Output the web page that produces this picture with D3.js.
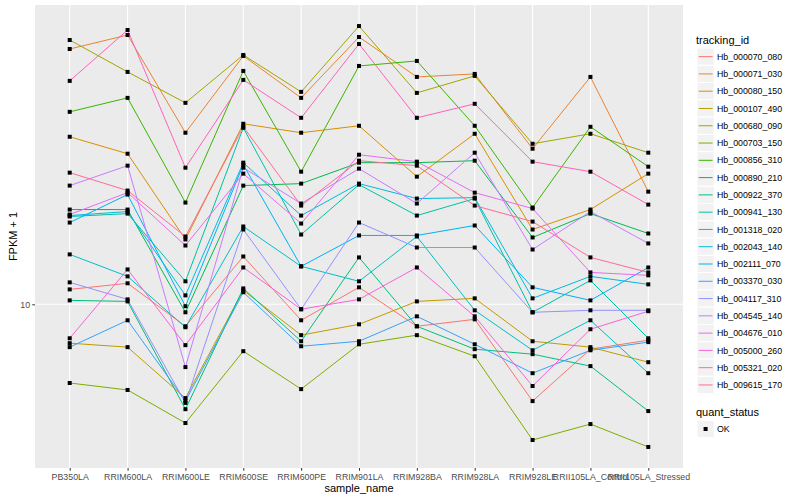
<!DOCTYPE html>
<html>
<head>
<meta charset="utf-8">
<style>
  body { margin: 0; background: #fff; }
  text { font-family: "Liberation Sans", Arial, sans-serif; }
</style>
<script src="https://d3js.org/d3.v7.min.js"></script>
</head>
<body>
<svg id="chart" width="800" height="500"></svg>
<script>
// sample names on the x axis
var samples = ["PB350LA", "RRIM600LA", "RRIM600LE", "RRIM600SE", "RRIM600PE", "RRIM901LA",
               "RRIM928BA", "RRIM928LA", "RRIM928LE", "RRII105LA_Control", "RRII105LA_Stressed"];

// FPKM + 1 per gene, one value per sample
var hb_000070_080 = [10.90, 11.29, 8.81, 13.18, 9.12, 11.03, 8.81, 9.17, 5.72, 7.72, 8.13];
var hb_000071_030 = [43.65, 47.32, 26.92, 41.93, 32.92, 46.77, 37.15, 37.80, 24.55, 37.15, 19.16];
var hb_000080_150 = [26.30, 23.85, 14.54, 28.35, 26.92, 28.02, 20.89, 26.76, 15.40, 17.28, 21.26];
var hb_000107_490 = [7.99, 7.81, 5.82, 10.84, 8.37, 8.91, 10.17, 10.35, 8.08, 7.81, 7.16];
var hb_000680_090 = [45.97, 38.24, 31.99, 42.17, 34.08, 49.83, 33.88, 37.37, 25.26, 26.76, 23.99];
var hb_000703_150 = [6.35, 6.10, 5.04, 7.63, 6.13, 7.94, 8.37, 7.41, 4.57, 5.01, 4.39];
var hb_000856_310 = [30.37, 32.92, 17.99, 38.46, 21.50, 39.58, 40.74, 28.02, 17.48, 27.86, 22.13];
var hb_000890_210 = [17.28, 17.28, 9.55, 19.84, 20.07, 22.65, 22.65, 22.91, 14.71, 16.88, 15.05];
var hb_000922_370 = [10.23, 10.17, 5.46, 10.96, 8.08, 13.11, 8.81, 7.72, 7.50, 7.00, 5.40];
var hb_000941_130 = [16.60, 16.88, 11.42, 27.70, 14.96, 19.95, 16.69, 18.41, 9.55, 11.48, 8.22];
var hb_001318_020 = [13.34, 11.75, 8.76, 15.67, 12.45, 11.42, 14.79, 9.66, 7.67, 9.12, 6.72];
var hb_002043_140 = [16.69, 17.08, 10.53, 22.65, 16.69, 20.07, 18.41, 18.51, 10.35, 11.75, 11.22];
var hb_002111_070 = [16.03, 18.84, 9.89, 22.39, 12.45, 14.88, 14.88, 15.76, 11.03, 10.23, 12.37];
var hb_003370_030 = [7.81, 9.12, 5.72, 10.72, 7.85, 8.08, 9.33, 7.94, 6.72, 7.67, 8.04];
var hb_004117_310 = [11.35, 10.29, 5.66, 15.40, 9.72, 16.03, 13.88, 13.88, 9.55, 9.66, 9.66];
var hb_004545_140 = [19.84, 22.26, 6.96, 22.00, 17.89, 21.88, 17.89, 23.99, 13.72, 17.08, 14.21];
var hb_004676_010 = [16.79, 19.05, 14.04, 21.26, 15.94, 23.71, 22.78, 19.05, 17.38, 12.02, 11.82];
var hb_005000_260 = [8.22, 12.23, 7.90, 12.37, 9.72, 10.29, 12.37, 9.33, 6.24, 8.66, 9.61];
var hb_005321_020 = [36.31, 48.70, 22.00, 36.52, 29.34, 44.93, 29.34, 31.81, 22.78, 21.50, 17.78];
var hb_009615_170 = [21.38, 19.28, 14.79, 27.86, 17.68, 22.91, 22.26, 17.68, 16.12, 13.11, 12.02];

var trackingIds = ["Hb_000070_080", "Hb_000071_030", "Hb_000080_150", "Hb_000107_490", "Hb_000680_090",
                   "Hb_000703_150", "Hb_000856_310", "Hb_000890_210", "Hb_000922_370", "Hb_000941_130",
                   "Hb_001318_020", "Hb_002043_140", "Hb_002111_070", "Hb_003370_030", "Hb_004117_310",
                   "Hb_004545_140", "Hb_004676_010", "Hb_005000_260", "Hb_005321_020", "Hb_009615_170"];
var fpkm = [hb_000070_080, hb_000071_030, hb_000080_150, hb_000107_490, hb_000680_090,
            hb_000703_150, hb_000856_310, hb_000890_210, hb_000922_370, hb_000941_130,
            hb_001318_020, hb_002043_140, hb_002111_070, hb_003370_030, hb_004117_310,
            hb_004545_140, hb_004676_010, hb_005000_260, hb_005321_020, hb_009615_170];
var quantStatus = ["OK"];
var yTicks = [10];

// ggplot default hue palette, 20 levels
var palette = ["#F8766D", "#EA8331", "#D89000", "#C09B00", "#A3A500", "#7CAE00", "#39B600",
               "#00BB4E", "#00BF7D", "#00C1A3", "#00BFC4", "#00BAE0", "#00B0F6", "#35A2FF",
               "#9590FF", "#C77CFF", "#E76BF3", "#FA62DB", "#FF62BC", "#FF6C91"];

var series = trackingIds.map(function(id, i) {
  return { id: id, color: palette[i],
           values: fpkm[i].map(function(v, j) { return { sample: samples[j], value: v }; }) };
});

var svg = d3.select("#chart");
var pLeft = 35, pRight = 683, pTop = 5, pBottom = 468;

var x = d3.scalePoint().domain(samples).range([pLeft, pRight]).padding(0.6);

// log scale, 5% expansion like ggplot
var all = d3.merge(fpkm);
var lo = Math.log10(d3.min(all)), hi = Math.log10(d3.max(all));
var pad = (hi - lo) * 0.05;
var y = d3.scaleLog()
    .domain([Math.pow(10, lo - pad), Math.pow(10, hi + pad)])
    .range([pBottom, pTop]);

// panel
svg.append("rect")
    .attr("x", pLeft).attr("y", pTop)
    .attr("width", pRight - pLeft).attr("height", pBottom - pTop)
    .attr("fill", "#EBEBEB");

svg.append("g").selectAll("line")
    .data(samples).enter().append("line")
    .attr("x1", function(d) { return x(d); }).attr("x2", function(d) { return x(d); })
    .attr("y1", pTop).attr("y2", pBottom)
    .attr("stroke", "#fff").attr("stroke-width", 1.07);

svg.append("g").selectAll("line")
    .data(yTicks).enter().append("line")
    .attr("x1", pLeft).attr("x2", pRight)
    .attr("y1", function(d) { return y(d); }).attr("y2", function(d) { return y(d); })
    .attr("stroke", "#fff").attr("stroke-width", 1.07);

// lines
var line = d3.line()
    .x(function(d) { return x(d.sample); })
    .y(function(d) { return y(d.value); });

svg.append("g").selectAll("path")
    .data(series).enter().append("path")
    .attr("d", function(d) { return line(d.values); })
    .attr("fill", "none")
    .attr("stroke", function(d) { return d.color; })
    .attr("stroke-width", 1);

// points
var pts = svg.append("g");
series.forEach(function(s) {
  pts.selectAll(null)
    .data(s.values).enter().append("rect")
    .attr("x", function(d) { return x(d.sample) - 2; })
    .attr("y", function(d) { return y(d.value) - 2; })
    .attr("width", 4).attr("height", 4)
    .attr("fill", "#000");
});

// axes
var xAxis = svg.append("g")
    .attr("transform", "translate(0," + pBottom + ")")
    .call(d3.axisBottom(x).tickSize(2.75).tickPadding(2.75));
var yAxis = svg.append("g")
    .attr("transform", "translate(" + pLeft + ",0)")
    .call(d3.axisLeft(y).tickValues(yTicks).tickFormat(d3.format("d")).tickSize(2.75).tickPadding(2.2));

[xAxis, yAxis].forEach(function(g) {
  g.select(".domain").remove();
  g.selectAll(".tick line").attr("stroke", "#333333").attr("stroke-width", 1);
  g.selectAll(".tick text")
    .attr("fill", "#4D4D4D")
    .style("font-size", "8.8px")
    .style("font-family", "'Liberation Sans', Arial, sans-serif");
});

svg.append("text")
    .attr("x", (pLeft + pRight) / 2).attr("y", 492)
    .attr("text-anchor", "middle")
    .style("font-size", "11px")
    .text("sample_name");

svg.append("text")
    .attr("transform", "translate(17," + ((pTop + pBottom) / 2) + ") rotate(-90)")
    .attr("text-anchor", "middle")
    .style("font-size", "11px")
    .text("FPKM + 1");

// legend: tracking_id
var legend = svg.append("g").attr("transform", "translate(696,0)");
legend.append("text")
    .attr("x", 0).attr("y", 43.5)
    .style("font-size", "11px")
    .text("tracking_id");

var keys = legend.selectAll("g.key")
    .data(series).enter().append("g")
    .attr("class", "key")
    .attr("transform", function(d, i) { return "translate(0," + (48 + i * 17.28) + ")"; });

keys.append("rect")
    .attr("x", 1).attr("y", 0)
    .attr("width", 17.28).attr("height", 17.28)
    .attr("fill", "#F2F2F2").attr("stroke", "#fff");
keys.append("line")
    .attr("x1", 2.7).attr("x2", 16.6)
    .attr("y1", 8.64).attr("y2", 8.64)
    .attr("stroke", function(d) { return d.color; })
    .attr("stroke-width", 1);
keys.append("text")
    .attr("x", 21).attr("y", 11.8)
    .style("font-size", "8.8px")
    .text(function(d) { return d.id; });

// legend: quant_status
var legend2 = svg.append("g").attr("transform", "translate(696,0)");
legend2.append("text")
    .attr("x", 0).attr("y", 415.5)
    .style("font-size", "11px")
    .text("quant_status");

var qkeys = legend2.selectAll("g.qkey")
    .data(quantStatus).enter().append("g")
    .attr("class", "qkey")
    .attr("transform", function(d, i) { return "translate(0," + (420.4 + i * 17.28) + ")"; });
qkeys.append("rect")
    .attr("x", 1).attr("y", 0)
    .attr("width", 17.28).attr("height", 17.28)
    .attr("fill", "#F2F2F2").attr("stroke", "#fff");
qkeys.append("rect")
    .attr("x", 7.6).attr("y", 6.6)
    .attr("width", 4).attr("height", 4)
    .attr("fill", "#000");
qkeys.append("text")
    .attr("x", 21).attr("y", 11.8)
    .style("font-size", "8.8px")
    .text(function(d) { return d; });
</script>
</body>
</html>
